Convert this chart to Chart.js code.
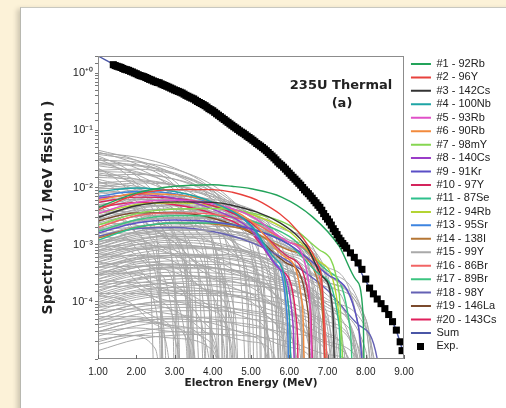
<!DOCTYPE html>
<html>
<head>
<meta charset="utf-8">
<script src="https://cdn.jsdelivr.net/npm/chart.js@4.4.1/dist/chart.umd.min.js"></script>
<style>
  html, body { margin: 0; padding: 0; }
  body { width: 506px; height: 408px; background: #fcf2d8; position: relative; overflow: hidden; }
  .panel { position: absolute; left: 20px; top: 7px; width: 520px; height: 440px; background: #fff;
           border-left: 1px solid #b8b8b0; border-top: 1px solid #c8c8c0; box-shadow: -3px 2px 5px rgba(0,0,0,0.18); }
  .wrap { position: absolute; left: 0; top: 0; width: 506px; height: 408px; }
</style>
</head>
<body>
<div class="panel"></div>
<div class="wrap"><canvas id="spectrumChart" width="506" height="408"></canvas></div>
<script>
// Eixo X / Y
const energyTickLabels = ['1.00', '2.00', '3.00', '4.00', '5.00', '6.00', '7.00', '8.00', '9.00'];
const decadeValues = [1, 0.1, 0.01, 0.001, 0.0001];
const decadeLabels = ['10⁺⁰', '10⁻¹', '10⁻²', '10⁻³', '10⁻⁴'];

// Espectro experimental [E, valor]
const expSpectrum = [
  [1.40, 1.41], [1.45, 1.36], [1.50, 1.32], [1.55, 1.29], [1.60, 1.26], [1.65, 1.21], [1.70, 1.17], [1.75, 1.15],
  [1.80, 1.12], [1.85, 1.08], [1.90, 1.05], [1.95, 1.01], [2.00, 0.98], [2.05, 0.94], [2.10, 0.91], [2.15, 0.89],
  [2.20, 0.87], [2.25, 0.84], [2.30, 0.81], [2.35, 0.78], [2.40, 0.76], [2.45, 0.73], [2.50, 0.71], [2.55, 0.69],
  [2.60, 0.68], [2.65, 0.65], [2.70, 0.63], [2.75, 0.61], [2.80, 0.59], [2.85, 0.57], [2.90, 0.55], [2.95, 0.53],
  [3.00, 0.51], [3.05, 0.495], [3.10, 0.48], [3.15, 0.465], [3.20, 0.45], [3.25, 0.43], [3.30, 0.41], [3.35, 0.395],
  [3.40, 0.38], [3.45, 0.367], [3.50, 0.355], [3.55, 0.337], [3.60, 0.32], [3.65, 0.307], [3.70, 0.295], [3.75, 0.282],
  [3.80, 0.27], [3.85, 0.255], [3.90, 0.24], [3.95, 0.23], [4.00, 0.22], [4.05, 0.207], [4.10, 0.195], [4.15, 0.184],
  [4.20, 0.174], [4.25, 0.164], [4.30, 0.155], [4.35, 0.146], [4.40, 0.138], [4.45, 0.13], [4.50, 0.123], [4.55, 0.116],
  [4.60, 0.11], [4.65, 0.104], [4.70, 0.098], [4.75, 0.093], [4.80, 0.089], [4.85, 0.084], [4.90, 0.079], [4.95, 0.075],
  [5.00, 0.071], [5.05, 0.067], [5.10, 0.063], [5.15, 0.059], [5.20, 0.056], [5.25, 0.053], [5.30, 0.05], [5.35, 0.047],
  [5.40, 0.044], [5.45, 0.041], [5.50, 0.038], [5.55, 0.0355], [5.60, 0.033], [5.65, 0.0305], [5.70, 0.028], [5.75, 0.026],
  [5.80, 0.0245], [5.85, 0.0227], [5.90, 0.021], [5.95, 0.0193], [6.00, 0.0178], [6.05, 0.0164], [6.10, 0.0151], [6.15, 0.014],
  [6.20, 0.0129], [6.25, 0.0119], [6.30, 0.011], [6.35, 0.01], [6.40, 0.0091], [6.45, 0.0084], [6.50, 0.0078], [6.55, 0.0071],
  [6.60, 0.0065], [6.65, 0.0059], [6.70, 0.0054], [6.75, 0.0049], [6.80, 0.0045], [6.85, 0.004], [6.90, 0.0035], [6.95, 0.0031],
  [7.00, 0.0028], [7.05, 0.0025], [7.10, 0.0022], [7.15, 0.0019], [7.20, 0.0017], [7.25, 0.0015], [7.30, 0.0013], [7.35, 0.00117],
  [7.40, 0.00105], [7.45, 0.00096], [7.50, 0.00087], [7.60, 0.00072], [7.70, 0.0006], [7.80, 0.00048], [7.90, 0.00037],
  [8.00, 0.00025], [8.10, 0.000174], [8.20, 0.000138], [8.30, 0.000112], [8.40, 0.000093], [8.50, 0.000076],
  [8.60, 0.00006], [8.70, 0.000045], [8.80, 0.000032], [8.90, 0.00002], [8.95, 0.000014]
];

// Soma de todos os nuclídeos
const sumSpectrum = [
  [1.0, 2.0], [1.5, 1.34], [2, 0.97], [2.5, 0.70], [3, 0.50], [3.5, 0.35], [4, 0.215], [4.5, 0.12], [5, 0.069],
  [5.5, 0.037], [6, 0.0172], [6.5, 0.0074], [7, 0.0026], [7.25, 0.0014], [7.5, 0.0008], [7.75, 0.00048],
  [8, 0.00023], [8.25, 0.00013], [8.5, 0.00007], [8.75, 0.000038], [9, 0.000012]
];

// 20 principais nuclídeos
const isotopeLabels = ['#1 - 92Rb', '#2 - 96Y', '#3 - 142Cs', '#4 - 100Nb', '#5 - 93Rb', '#6 - 90Rb', '#7 - 98mY',
  '#8 - 140Cs', '#9 - 91Kr', '#10 - 97Y', '#11 - 87Se', '#12 - 94Rb', '#13 - 95Sr', '#14 - 138I', '#15 - 99Y',
  '#16 - 86Br', '#17 - 89Br', '#18 - 98Y', '#19 - 146La', '#20 - 143Cs'];
const isotopeColors = ['#23a35a', '#e8413c', '#333333', '#1ea5a5', '#e050c8', '#f28a3c', '#86d651', '#9a3cc8',
  '#5a4ec6', '#d4245c', '#2ec08c', '#b4d433', '#3d84e0', '#b57634', '#a9a9a9', '#f26464', '#3cc480', '#6461b4',
  '#7b4a2c', '#e0205c'];
const isotopeSpectra = [
  [[1, 0.0045], [2, 0.008], [3, 0.0105], [4, 0.0112], [4.5, 0.0105], [5, 0.0095], [5.8, 0.0068], [6.6, 0.0031], [7.3, 0.00095], [7.75, 0.00024], [7.93, 6e-5], [8.0, 1e-8]],
  [[1, 0.004], [2, 0.0075], [3, 0.0092], [4, 0.0092], [4.5, 0.0083], [5.3, 0.0054], [6.2, 0.0018], [6.73, 4.8e-4], [6.88, 1.2e-4], [7.0, 1e-8]],
  [[1, 0.003], [2, 0.0048], [3, 0.0056], [4, 0.0055], [4.45, 0.005], [5.76, 0.0024], [6.46, 9.2e-4], [6.88, 2.7e-4], [7.14, 6.5e-5], [7.25, 1e-8]],
  [[1, 0.0085], [2, 0.0098], [3, 0.0085], [4, 0.0055], [5, 0.0022], [5.6, 6e-4], [6.0, 6e-5], [6.12, 1e-8]],
  [[1, 0.0035], [2, 0.0055], [3, 0.006], [4, 0.0052], [5, 0.0032], [6, 0.0011], [6.5, 2.5e-4], [6.7, 1e-8]],
  [[1, 0.006], [2, 0.0078], [3, 0.0075], [4, 0.0055], [5, 0.0026], [5.9, 6e-4], [6.35, 8e-5], [6.45, 1e-8]],
  [[1, 0.0022], [2, 0.0035], [3, 0.0042], [4, 0.0043], [5, 0.0036], [6, 0.0022], [6.8, 8e-4], [7.3, 1.5e-4], [7.55, 1e-8]],
  [[1, 0.0065], [2, 0.0075], [3, 0.0065], [4, 0.0042], [5, 0.0018], [5.7, 4e-4], [6.1, 4e-5], [6.2, 1e-8]],
  [[1, 0.0016], [2, 0.0024], [3, 0.0027], [4, 0.0025], [5, 0.0019], [6, 0.001], [7, 3e-4], [7.8, 4e-5], [8.2, 1e-8]],
  [[1, 0.0055], [2, 0.0068], [3, 0.0065], [4, 0.0048], [5, 0.0024], [6, 6e-4], [6.55, 8e-5], [6.7, 1e-8]],
  [[1, 0.0012], [2, 0.002], [3, 0.0024], [4, 0.0024], [5, 0.0019], [6, 0.001], [6.8, 3e-4], [7.3, 4e-5], [7.45, 1e-8]],
  [[1, 0.0035], [2, 0.005], [3, 0.0054], [4, 0.0048], [5, 0.0034], [6, 0.0017], [6.8, 5e-4], [7.3, 6e-5], [7.45, 1e-8]],
  [[1, 0.007], [2, 0.0085], [3, 0.0078], [4, 0.0052], [5, 0.0021], [5.6, 5e-4], [5.95, 5e-5], [6.05, 1e-8]],
  [[1, 0.0013], [2, 0.002], [3, 0.0024], [4, 0.0023], [5, 0.0017], [6, 8e-4], [6.8, 1.8e-4], [7.15, 1e-8]],
  [[1, 0.001], [2, 0.0015], [3, 0.0018], [4, 0.0018], [5, 0.0015], [6, 9e-4], [7, 3e-4], [7.8, 4e-5], [8.4, 1e-8]],
  [[1, 0.002], [2, 0.0032], [3, 0.0036], [4, 0.0034], [5, 0.0025], [6, 0.0011], [6.8, 2.6e-4], [7.25, 1e-8]],
  [[1, 0.0017], [2, 0.0027], [3, 0.0032], [4, 0.0032], [5, 0.0026], [6, 0.0014], [7, 3.5e-4], [7.6, 3e-5], [7.75, 1e-8]],
  [[1, 0.0014], [2, 0.0019], [3, 0.002], [4, 0.0017], [5, 0.0011], [6, 5e-4], [7, 1.6e-4], [7.8, 4e-5], [8.3, 1e-5], [8.6, 1e-8]],
  [[1, 0.0026], [2, 0.0036], [3, 0.0036], [4, 0.0029], [5, 0.0016], [6, 4.5e-4], [6.5, 6e-5], [6.6, 1e-8]],
  [[1, 0.0045], [2, 0.0055], [3, 0.005], [4, 0.0035], [5, 0.0016], [5.8, 3.5e-4], [6.2, 4e-5], [6.3, 1e-8]]
];

// Demais nuclídeos (curvas cinzas)
const otherSpectra = [
  [[1, 0.045], [2, 0.03], [3, 0.013], [3.8, 0.0035], [4.3, 4e-4], [4.5, 1e-8]],
  [[1, 0.04], [2, 0.034], [3, 0.022], [4, 0.009], [4.7, 0.0022], [5.1, 2e-4], [5.25, 1e-8]],
  [[1, 0.036], [1.8, 0.02], [2.6, 0.006], [3.1, 0.0012], [3.4, 1e-4], [3.5, 1e-8]],
  [[1, 0.03], [2, 0.028], [3, 0.021], [4, 0.011], [5, 0.0032], [5.6, 4e-4], [5.85, 1e-8]],
  [[1, 0.028], [2, 0.017], [3, 0.0065], [3.6, 0.0016], [3.95, 1.2e-4], [4.05, 1e-8]],
  [[1, 0.025], [2, 0.024], [3, 0.017], [4, 0.008], [4.8, 0.0017], [5.2, 1.5e-4], [5.3, 1e-8]],
  [[1, 0.022], [1.6, 0.012], [2.2, 0.004], [2.6, 6e-4], [2.8, 1e-8]],
  [[1, 0.02], [2, 0.021], [3, 0.017], [4, 0.0095], [5, 0.0035], [5.8, 6e-4], [6.2, 1e-8]],
  [[1, 0.018], [2, 0.014], [3, 0.0075], [4, 0.0022], [4.5, 3e-4], [4.65, 1e-8]],
  [[1, 0.016], [2, 0.017], [3, 0.014], [4, 0.0085], [5, 0.003], [5.6, 6e-4], [6.0, 1e-8]],
  [[1, 0.014], [2, 0.009], [2.8, 0.0035], [3.4, 5e-4], [3.65, 1e-8]],
  [[1, 0.012], [2, 0.013], [3, 0.011], [4, 0.0068], [5, 0.0025], [5.8, 4e-4], [6.15, 1e-8]],
  [[1, 0.011], [2, 0.0095], [3, 0.006], [4, 0.0025], [4.7, 4e-4], [5.0, 1e-8]],
  [[1, 0.009], [2, 0.0075], [3, 0.0042], [3.8, 0.0013], [4.3, 1.5e-4], [4.45, 1e-8]],
  [[1, 0.008], [2, 0.0082], [3, 0.007], [4, 0.0048], [5, 0.0021], [5.8, 4.5e-4], [6.3, 1e-8]],
  [[1, 0.0075], [1.8, 0.005], [2.5, 0.0018], [3, 3e-4], [3.2, 1e-8]],
  [[1, 0.0035], [2, 0.0055], [3, 0.0062], [4, 0.0055], [5, 0.0035], [6, 0.0012], [6.6, 1.8e-4], [6.85, 1e-8]],
  [[1, 0.0025], [2, 0.0042], [3, 0.0048], [4, 0.0042], [5, 0.0025], [5.8, 7e-4], [6.3, 5e-5], [6.4, 1e-8]],
  [[1, 0.002], [2, 0.0032], [3, 0.0038], [4, 0.0036], [5, 0.0026], [6, 0.0011], [6.8, 1.6e-4], [7.15, 1e-8]],
  [[1, 0.0015], [2, 0.0028], [3, 0.0034], [4, 0.003], [5, 0.0017], [5.6, 6e-4], [6.0, 5e-5], [6.1, 1e-8]],
  [[1, 0.0012], [2, 0.002], [3, 0.0025], [4, 0.0025], [5, 0.002], [6, 0.0011], [7, 2.5e-4], [7.5, 1e-8]],
  [[1, 0.001], [2, 0.0017], [3, 0.0019], [4, 0.0016], [5, 8e-4], [5.5, 2e-4], [5.75, 1e-8]],
  [[1, 8e-4], [2, 0.0012], [3, 0.0015], [4, 0.0015], [5, 0.0012], [6, 7e-4], [7, 2e-4], [7.8, 1e-8]],
  [[1, 6e-4], [2, 0.001], [3, 0.0012], [4, 0.0011], [5, 7e-4], [6, 2.2e-4], [6.5, 2e-5], [6.55, 1e-8]],
  [[1, 5e-4], [2, 8e-4], [3, 9.5e-4], [4, 9e-4], [5, 7e-4], [6, 3.8e-4], [7, 9e-5], [7.5, 5e-6], [7.55, 1e-8]],
  [[1, 4e-4], [2, 6e-4], [3, 6.5e-4], [4, 5.5e-4], [4.8, 3e-4], [5.4, 6e-5], [5.6, 1e-8]],
  [[1, 3e-4], [2, 5e-4], [3, 6e-4], [4, 6e-4], [5, 5e-4], [6, 3e-4], [7, 1.1e-4], [7.8, 1e-5], [8.0, 1e-8]],
  [[1, 2.5e-4], [2, 4e-4], [3, 4.5e-4], [4, 4e-4], [5, 2.6e-4], [6, 8e-5], [6.4, 1e-5], [6.5, 1e-8]],
  [[1, 2e-4], [2, 3.2e-4], [3, 3.8e-4], [4, 3.8e-4], [5, 3.2e-4], [6, 2.1e-4], [7, 9e-5], [7.8, 1.5e-5], [8.3, 1e-8]],
  [[1, 1.5e-4], [2, 2.5e-4], [3, 2.9e-4], [4, 2.6e-4], [5, 1.8e-4], [6, 6e-5], [6.6, 8e-6], [6.7, 1e-8]],
  [[1, 1.2e-4], [2, 1.8e-4], [3, 2.2e-4], [4, 2.3e-4], [5, 2e-4], [6, 1.4e-4], [7, 6e-5], [7.9, 1e-5], [8.5, 1e-8]],
  [[1, 9e-5], [2, 1.4e-4], [3, 1.6e-4], [4, 1.5e-4], [5, 1e-4], [5.8, 3.5e-5], [6.3, 3e-6], [6.35, 1e-8]],
  [[1, 7e-5], [2, 1.1e-4], [3, 1.3e-4], [4, 1.3e-4], [5, 1.1e-4], [6, 7e-5], [7, 2.8e-5], [7.6, 6e-6], [7.8, 1e-8]],
  [[1, 5e-5], [2, 8e-5], [3, 9e-5], [4, 8e-5], [5, 5e-5], [5.5, 2e-5], [5.8, 1e-8]],
  [[1, 4e-5], [2, 6e-5], [3, 7e-5], [4, 7e-5], [5, 6e-5], [6, 4e-5], [7, 1.8e-5], [7.8, 4e-6], [8.1, 1e-8]],
  [[1, 3e-5], [2, 4.5e-5], [3, 5e-5], [4, 4.2e-5], [5, 2.5e-5], [5.4, 1.2e-5], [5.7, 1e-8]],
  [[1, 2e-5], [2, 3e-5], [3, 3.5e-5], [4, 3.4e-5], [5, 2.8e-5], [6, 1.6e-5], [6.8, 5e-6], [7.0, 1e-8]],
  [[1, 0.005], [1.6, 0.0032], [2.2, 0.0012], [2.6, 2e-4], [2.75, 1e-8]],
  [[1, 0.004], [2, 0.0035], [3, 0.0018], [3.6, 4e-4], [3.9, 1e-8]],
  [[1, 0.003], [2, 0.0022], [2.8, 8e-4], [3.3, 1e-4], [3.45, 1e-8]],
  [[1, 0.0018], [2, 0.002], [3, 0.0014], [4, 5e-4], [4.4, 8e-5], [4.55, 1e-8]],
  [[1, 0.0014], [2, 0.0011], [2.7, 4e-4], [3.1, 5e-5], [3.2, 1e-8]],
  [[1, 9e-4], [2, 0.001], [3, 8e-4], [4, 3.5e-4], [4.6, 5e-5], [4.75, 1e-8]],
  [[1, 7e-4], [1.8, 5.5e-4], [2.4, 2e-4], [2.75, 2e-5], [2.85, 1e-8]],
  [[1, 4.5e-4], [2, 5e-4], [3, 4e-4], [3.8, 1.6e-4], [4.3, 1.5e-5], [4.4, 1e-8]],
  [[1, 3.5e-4], [2, 3e-4], [2.8, 1.4e-4], [3.3, 2e-5], [3.45, 1e-8]],
  [[1, 2e-4], [2, 2.2e-4], [3, 1.8e-4], [4, 8e-5], [4.5, 1.5e-5], [4.65, 1e-8]],
  [[1, 1.3e-4], [1.8, 1e-4], [2.5, 4e-5], [2.9, 5e-6], [2.95, 1e-8]],
  [[1, 8e-5], [2, 9e-5], [3, 7e-5], [3.8, 3e-5], [4.2, 5e-6], [4.3, 1e-8]],
  [[1, 5e-5], [2, 5e-5], [3, 3.5e-5], [3.5, 1.5e-5], [3.75, 1e-8]],
  [[1, 3e-5], [2, 3.5e-5], [3, 3e-5], [4, 1.8e-5], [4.6, 1e-8]],
  [[1, 0.0028], [2, 0.004], [3, 0.0042], [4, 0.0035], [5, 0.002], [5.8, 6e-4], [6.3, 6e-5], [6.4, 1e-8]],
  [[1, 0.0018], [2, 0.0026], [3, 0.003], [4, 0.0029], [5, 0.0022], [6, 0.0011], [7, 2.2e-4], [7.45, 1e-8]],
  [[1, 0.0011], [2, 0.0017], [3, 0.0021], [4, 0.0021], [5, 0.0018], [6, 0.0011], [7, 4e-4], [7.8, 4e-5], [8.0, 1e-8]],
  [[1, 5e-4], [2, 7e-4], [3, 8.5e-4], [4, 8.5e-4], [5, 7.5e-4], [6, 5e-4], [7, 2.2e-4], [8, 3.5e-5], [8.45, 1e-8]],
  [[1, 2.5e-4], [2, 3.5e-4], [3, 4.2e-4], [4, 4.5e-4], [5, 4.2e-4], [6, 3.3e-4], [7, 1.8e-4], [8, 5e-5], [8.7, 1e-8]],
  [[1, 1e-4], [2, 1.5e-4], [3, 1.8e-4], [4, 2e-4], [5, 1.9e-4], [6, 1.6e-4], [7, 1e-4], [8, 3.5e-5], [8.9, 1e-8]],
  [[1, 0.0065], [2, 0.009], [3, 0.009], [4, 0.007], [5, 0.0038], [5.8, 0.0011], [6.3, 1.2e-4], [6.45, 1e-8]],
  [[1, 0.0045], [2, 0.0065], [3, 0.007], [4, 0.0062], [5, 0.0042], [6, 0.0017], [6.7, 3e-4], [7.0, 1e-8]],
  [[1, 0.01], [2, 0.012], [3, 0.011], [4, 0.0075], [5, 0.0032], [5.6, 7e-4], [5.95, 1e-8]],
  [[1, 0.042], [2, 0.026], [3, 0.011], [3.7, 0.0025], [4.1, 2.5e-4], [4.25, 1e-8]],
  [[1, 0.038], [2, 0.03], [3, 0.017], [4, 0.006], [4.6, 0.0011], [4.9, 8e-5], [5.0, 1e-8]],
  [[1, 0.033], [2, 0.022], [3, 0.009], [3.8, 0.0018], [4.2, 1.5e-4], [4.3, 1e-8]],
  [[1, 0.032], [1.6, 0.02], [2.2, 0.008], [2.7, 0.0018], [3.0, 1.5e-4], [3.1, 1e-8]],
  [[1, 0.027], [2, 0.025], [3, 0.018], [4, 0.009], [4.8, 0.0025], [5.3, 3e-4], [5.5, 1e-8]],
  [[1, 0.024], [2, 0.019], [3, 0.011], [4, 0.0042], [4.6, 9e-4], [4.95, 6e-5], [5.05, 1e-8]],
  [[1, 0.021], [1.7, 0.014], [2.4, 0.006], [3, 0.0015], [3.35, 1.2e-4], [3.45, 1e-8]],
  [[1, 0.019], [2, 0.018], [3, 0.014], [4, 0.0075], [5, 0.0024], [5.6, 3.5e-4], [5.85, 1e-8]],
  [[1, 0.017], [2, 0.012], [2.8, 0.0055], [3.5, 0.0014], [3.9, 1.2e-4], [4.0, 1e-8]],
  [[1, 0.015], [2, 0.014], [3, 0.011], [4, 0.0062], [4.9, 0.002], [5.5, 3e-4], [5.7, 1e-8]],
  [[1, 0.013], [1.5, 0.009], [2, 0.0045], [2.4, 0.0012], [2.65, 8e-5], [2.7, 1e-8]],
  [[1, 0.012], [2, 0.0105], [3, 0.0072], [4, 0.0035], [4.8, 8e-4], [5.25, 5e-5], [5.3, 1e-8]],
  [[1, 0.01], [2, 0.0085], [3, 0.005], [3.7, 0.0019], [4.2, 2.5e-4], [4.35, 1e-8]],
  [[1, 0.0095], [2, 0.0098], [3, 0.0085], [4, 0.0058], [5, 0.0027], [5.9, 6e-4], [6.45, 1e-8]],
  [[1, 0.0085], [1.8, 0.006], [2.5, 0.003], [3.1, 7e-4], [3.45, 5e-5], [3.5, 1e-8]],
  [[1, 0.007], [2, 0.0066], [3, 0.0048], [4, 0.0024], [4.7, 6e-4], [5.05, 4e-5], [5.1, 1e-8]],
  [[1, 0.006], [2, 0.0062], [3, 0.0053], [4, 0.0036], [5, 0.0017], [5.7, 4e-4], [6.1, 1e-8]],
  [[1, 0.0055], [2, 0.0042], [2.8, 0.0021], [3.4, 6e-4], [3.8, 4e-5], [3.85, 1e-8]],
  [[1, 0.005], [2, 0.0052], [3, 0.0042], [4, 0.0025], [4.8, 8e-4], [5.35, 6e-5], [5.4, 1e-8]],
  [[1, 0.0032], [2, 0.0046], [3, 0.0048], [4, 0.0038], [5, 0.0019], [5.6, 6e-4], [6.0, 6e-5], [6.05, 1e-8]],
  [[1, 0.0027], [2, 0.0038], [3, 0.0042], [4, 0.0038], [5, 0.0027], [6, 0.0011], [6.6, 2.4e-4], [6.95, 1e-8]],
  [[1, 0.0022], [2, 0.0031], [3, 0.0033], [4, 0.0027], [4.8, 0.0014], [5.3, 4e-4], [5.6, 1e-8]],
  [[1, 0.0017], [2, 0.0025], [3, 0.0029], [4, 0.0028], [5, 0.0022], [6, 0.0012], [7, 3e-4], [7.6, 1e-8]],
  [[1, 0.0014], [2, 0.0021], [3, 0.0023], [4, 0.0019], [5, 0.0011], [5.7, 3e-4], [6.1, 1e-8]],
  [[1, 0.0011], [2, 0.0016], [3, 0.0018], [4, 0.0018], [5, 0.0015], [6, 8.5e-4], [6.8, 2.2e-4], [7.25, 1e-8]],
  [[1, 9e-4], [2, 0.0013], [3, 0.0014], [4, 0.0011], [4.8, 5.5e-4], [5.3, 1.2e-4], [5.5, 1e-8]],
  [[1, 7.5e-4], [2, 0.0011], [3, 0.0013], [4, 0.0013], [5, 0.0011], [6, 6.5e-4], [7, 2e-4], [7.7, 1.5e-5], [7.85, 1e-8]],
  [[1, 6.5e-4], [2, 9e-4], [3, 0.001], [4, 8.5e-4], [5, 5e-4], [5.7, 1.5e-4], [6.05, 1e-8]],
  [[1, 5.5e-4], [2, 8e-4], [3, 9e-4], [4, 8.5e-4], [5, 6.5e-4], [6, 3.2e-4], [6.7, 8e-5], [7.0, 1e-8]],
  [[1, 4.5e-4], [2, 6.5e-4], [3, 7e-4], [4, 6e-4], [5, 3.5e-4], [5.6, 1e-4], [5.95, 1e-8]],
  [[1, 3.5e-4], [2, 5.5e-4], [3, 6.5e-4], [4, 6.5e-4], [5, 5.5e-4], [6, 3.5e-4], [7, 1.3e-4], [7.7, 1.8e-5], [8.1, 1e-8]],
  [[1, 3e-4], [2, 4.2e-4], [3, 4.6e-4], [4, 4e-4], [5, 2.5e-4], [5.8, 7e-5], [6.2, 1e-8]],
  [[1, 2.2e-4], [2, 3.4e-4], [3, 4e-4], [4, 3.9e-4], [5, 3.2e-4], [6, 2e-4], [6.9, 7e-5], [7.5, 1e-8]],
  [[1, 1.8e-4], [2, 2.6e-4], [3, 2.9e-4], [4, 2.5e-4], [4.8, 1.5e-4], [5.4, 4e-5], [5.65, 1e-8]],
  [[1, 1.4e-4], [2, 2.1e-4], [3, 2.5e-4], [4, 2.6e-4], [5, 2.3e-4], [6, 1.7e-4], [7, 8e-5], [8, 1.4e-5], [8.6, 1e-8]],
  [[1, 1.1e-4], [2, 1.6e-4], [3, 1.8e-4], [4, 1.6e-4], [5, 1.1e-4], [6, 4e-5], [6.5, 1e-8]],
  [[1, 8e-5], [2, 1.2e-4], [3, 1.4e-4], [4, 1.4e-4], [5, 1.2e-4], [6, 8.5e-5], [7, 4e-5], [7.8, 9e-6], [8.2, 1e-8]],
  [[1, 6e-5], [2, 9e-5], [3, 1e-4], [4, 9e-5], [5, 6.5e-5], [5.8, 2.8e-5], [6.3, 1e-8]],
  [[1, 4.5e-5], [2, 7e-5], [3, 8e-5], [4, 8e-5], [5, 7e-5], [6, 5e-5], [7, 2.5e-5], [7.5, 1.2e-5], [7.9, 1e-8]],
  [[1, 3.5e-5], [2, 5e-5], [3, 5.5e-5], [4, 5e-5], [5, 3.6e-5], [6, 1.6e-5], [6.4, 1e-8]],
  [[1, 2.5e-5], [2, 3.8e-5], [3, 4.5e-5], [4, 4.5e-5], [5, 4e-5], [6, 2.8e-5], [7, 1.3e-5], [7.4, 1e-8]],
  [[1, 1.8e-5], [2, 2.6e-5], [3, 3e-5], [4, 2.8e-5], [5, 2e-5], [5.6, 1.2e-5], [6.0, 1e-8]],
  [[1, 1.4e-5], [2, 2.2e-5], [3, 2.6e-5], [4, 2.7e-5], [5, 2.5e-5], [6, 2e-5], [7, 1.2e-5], [8, 4e-6], [8.3, 1e-8]],
  [[1, 0.0045], [1.5, 0.0032], [2, 0.0016], [2.35, 4e-4], [2.55, 1e-8]],
  [[1, 0.0038], [2, 0.003], [2.8, 0.0013], [3.3, 2.5e-4], [3.5, 1e-8]],
  [[1, 0.0024], [2, 0.0022], [3, 0.0013], [3.8, 3.5e-4], [4.2, 1e-8]],
  [[1, 0.002], [1.7, 0.0014], [2.3, 5e-4], [2.65, 6e-5], [2.75, 1e-8]],
  [[1, 0.0016], [2, 0.0016], [3, 0.0011], [3.7, 4e-4], [4.1, 4e-5], [4.15, 1e-8]],
  [[1, 0.0012], [2, 0.0012], [2.9, 7e-4], [3.5, 2e-4], [3.8, 1e-8]],
  [[1, 0.001], [1.8, 8e-4], [2.5, 3.5e-4], [2.95, 5e-5], [3.05, 1e-8]],
  [[1, 8e-4], [2, 8.5e-4], [3, 6.5e-4], [4, 2.8e-4], [4.5, 5e-5], [4.6, 1e-8]],
  [[1, 6e-4], [2, 6.5e-4], [3, 5e-4], [3.6, 2.5e-4], [4.0, 2e-5], [4.05, 1e-8]],
  [[1, 5e-4], [1.6, 4e-4], [2.2, 1.8e-4], [2.6, 3e-5], [2.7, 1e-8]],
  [[1, 4e-4], [2, 4.2e-4], [3, 3.3e-4], [4, 1.4e-4], [4.6, 1.5e-5], [4.7, 1e-8]],
  [[1, 3e-4], [2, 3.2e-4], [2.8, 2.2e-4], [3.4, 8e-5], [3.7, 1e-8]],
  [[1, 2.4e-4], [1.9, 2e-4], [2.6, 1e-4], [3.1, 2e-5], [3.2, 1e-8]],
  [[1, 1.8e-4], [2, 1.9e-4], [3, 1.5e-4], [4, 7e-5], [4.5, 1e-5], [4.6, 1e-8]],
  [[1, 1.4e-4], [2, 1.4e-4], [3, 1e-4], [3.7, 4.5e-5], [4.0, 1e-8]],
  [[1, 1e-4], [1.8, 9e-5], [2.6, 5e-5], [3.1, 1.2e-5], [3.25, 1e-8]],
  [[1, 7e-5], [2, 7.5e-5], [3, 6e-5], [4, 3e-5], [4.6, 1e-8]],
  [[1, 5.5e-5], [2, 5.5e-5], [2.8, 4e-5], [3.4, 1.6e-5], [3.6, 1e-8]],
  [[1, 4e-5], [2, 4.5e-5], [3, 3.8e-5], [3.8, 2e-5], [4.3, 1e-8]],
  [[1, 2.8e-5], [1.8, 2.6e-5], [2.5, 1.5e-5], [2.9, 1e-8]],
  [[1, 2.2e-5], [2, 2.6e-5], [3, 2.3e-5], [4, 1.4e-5], [4.8, 1e-8]],
  [[1, 0.0042], [2, 0.006], [3, 0.0063], [4, 0.0052], [5, 0.0031], [6, 0.0011], [6.55, 1.5e-4], [6.7, 1e-8]],
  [[1, 0.003], [2, 0.0045], [3, 0.005], [4, 0.0046], [5, 0.0034], [6, 0.0017], [6.8, 4.5e-4], [7.2, 1e-8]],
  [[1, 8e-4], [2, 0.0012], [3, 0.0014], [4, 0.0014], [5, 0.0012], [6, 8e-4], [7, 3.2e-4], [8, 4e-5], [8.35, 1e-8]],
  [[1, 4e-4], [2, 5.5e-4], [3, 6.5e-4], [4, 6.8e-4], [5, 6.2e-4], [6, 4.5e-4], [7, 2.2e-4], [8, 5e-5], [8.55, 1e-8]],
  [[1, 6e-4], [2, 8.5e-4], [3, 9.5e-4], [4, 9e-4], [5, 7e-4], [6, 3.5e-4], [6.6, 9e-5], [6.9, 1e-8]],
  [[1, 3.2e-4], [2, 4.6e-4], [3, 5.2e-4], [4, 5e-4], [5, 4e-4], [6, 2.2e-4], [6.8, 6e-5], [7.15, 1e-8]],
  [[1, 1.6e-4], [2, 2.4e-4], [3, 2.8e-4], [4, 2.8e-4], [5, 2.4e-4], [6, 1.5e-4], [7, 5e-5], [7.6, 1e-8]],
  [[1, 8.5e-5], [2, 1.3e-4], [3, 1.5e-4], [4, 1.55e-4], [5, 1.4e-4], [6, 1e-4], [7, 4.5e-5], [7.9, 5e-6], [8.05, 1e-8]],
  [[1, 0.0013], [2, 0.0019], [3, 0.0021], [4, 0.0019], [5, 0.0013], [5.8, 5e-4], [6.3, 6e-5], [6.4, 1e-8]],
  [[1, 0.0009], [2, 0.0014], [3, 0.0016], [4, 0.0016], [5, 0.0013], [6, 6.5e-4], [6.7, 1.5e-4], [7.0, 1e-8]],
  [[1, 0.0024], [2, 0.0034], [3, 0.0036], [4, 0.003], [5, 0.0018], [5.7, 6e-4], [6.15, 5e-5], [6.2, 1e-8]],
  [[1, 2.8e-4], [2, 4e-4], [3, 4.4e-4], [4, 4e-4], [5, 2.8e-4], [5.8, 1.1e-4], [6.3, 1e-5], [6.4, 1e-8]],
  [[1, 1.3e-4], [2, 1.9e-4], [3, 2.1e-4], [4, 1.9e-4], [5, 1.4e-4], [6, 6.5e-5], [6.6, 1.5e-5], [6.8, 1e-8]],
  [[1, 6e-5], [2, 9e-5], [3, 1.05e-4], [4, 1.05e-4], [5, 9e-5], [6, 6e-5], [7, 2.5e-5], [7.3, 1e-8]],
  [[1, 3e-5], [2, 4.5e-5], [3, 5.2e-5], [4, 5.4e-5], [5, 5e-5], [6, 3.8e-5], [7, 2e-5], [8, 5e-6], [8.4, 1e-8]],
  [[1, 0.0019], [2, 0.0027], [3, 0.0029], [4, 0.0025], [5, 0.0016], [6, 6e-4], [6.6, 1e-4], [6.75, 1e-8]],
  [[1, 0.0007], [2, 0.001], [3, 0.0011], [4, 0.001], [5, 7.5e-4], [6, 3.5e-4], [6.5, 1.1e-4], [6.75, 1e-8]],
  [[1, 4e-4], [2, 5.8e-4], [3, 6.4e-4], [4, 6e-4], [5, 4.6e-4], [6, 2.4e-4], [7, 6e-5], [7.4, 1e-8]],
  [[1, 2e-4], [2, 2.9e-4], [3, 3.3e-4], [4, 3.2e-4], [5, 2.7e-4], [6, 1.8e-4], [7, 7e-5], [7.7, 1e-5], [7.85, 1e-8]]
];

// Marcador quadrado da legenda (Exp.)
const expMarker = document.createElement('canvas');
expMarker.width = 7;
expMarker.height = 7;
expMarker.getContext('2d').fillRect(0, 0, 7, 7);

const datasets = [];
isotopeLabels.forEach((label, i) => {
    datasets.push({
        label: label,
        data: isotopeSpectra[i],
        borderColor: isotopeColors[i],
        backgroundColor: isotopeColors[i],
        borderWidth: 1.4,
        pointRadius: 0,
        pointStyle: 'line',
        cubicInterpolationMode: 'monotone',
        order: 2
    });
});
datasets.push({
    label: 'Sum',
    data: sumSpectrum,
    borderColor: '#4a56a6',
    backgroundColor: '#4a56a6',
    borderWidth: 1.4,
    pointRadius: 0,
    pointStyle: 'line',
    cubicInterpolationMode: 'monotone',
    order: 1
});
datasets.push({
    label: 'Exp.',
    data: expSpectrum,
    showLine: false,
    pointStyle: 'rect',
    pointRadius: 5,
    pointBackgroundColor: '#000',
    pointBorderColor: '#000',
    pointBorderWidth: 0,
    borderColor: '#000',
    backgroundColor: '#000',
    order: 0
});
otherSpectra.forEach(curve => {
    datasets.push({
        data: curve,
        borderColor: '#a8a8a8',
        borderWidth: 1,
        pointRadius: 0,
        cubicInterpolationMode: 'monotone',
        order: 3
    });
});

// Moldura, marcas do eixo X e título interno
const frame = {
    id: 'frame',
    afterDraw(chart) {
        const { ctx, chartArea: a, scales } = chart;
        ctx.save();
        ctx.strokeStyle = '#8c8c8c';
        ctx.lineWidth = 1;
        ctx.strokeRect(a.left + 0.5, a.top + 0.5, a.width - 1, a.height - 1);
        ctx.strokeStyle = '#666';
        scales.x.ticks.forEach(t => {
            const px = Math.round(scales.x.getPixelForValue(t.value)) + 0.5;
            ctx.beginPath();
            ctx.moveTo(px, a.bottom);
            ctx.lineTo(px, a.bottom - 4);
            ctx.stroke();
        });
        ctx.fillStyle = '#222';
        ctx.font = 'bold 13px "DejaVu Sans"';
        ctx.textAlign = 'center';
        ctx.textBaseline = 'middle';
        ctx.fillText('235U Thermal', a.left + 243, 86);
        ctx.fillText('(a)', a.left + 244, 104);
        ctx.restore();
    }
};

const legendNudge = {
    id: 'legendNudge',
    afterLayout(chart) {
        chart.legend.left += 4.5;
        chart.legend.right += 4.5;
    }
};

new Chart(document.getElementById('spectrumChart'), {
    type: 'line',
    data: { datasets },
    plugins: [frame, legendNudge],
    options: {
        responsive: false,
        animation: false,
        events: [],
        layout: { padding: { left: 20, top: 56, right: 6, bottom: 0 } },
        plugins: {
            tooltip: { enabled: false },
            legend: {
                position: 'right',
                align: 'start',
                maxWidth: 96,
                labels: {
                    usePointStyle: true,
                    pointStyleWidth: 20,
                    padding: 2.45,
                    color: '#222',
                    font: { family: 'Liberation Sans', size: 11 },
                    generateLabels(chart) {
                        const items = Chart.defaults.plugins.legend.labels.generateLabels(chart)
                            .filter(it => chart.data.datasets[it.datasetIndex].label);
                        items.sort((a, b) => a.datasetIndex - b.datasetIndex);
                        items.forEach(it => {
                            it.lineWidth = 2;
                            if (it.text === 'Exp.') it.pointStyle = expMarker;
                        });
                        return items;
                    }
                }
            }
        },
        scales: {
            x: {
                type: 'linear',
                min: 1,
                max: 9,
                afterFit: s => { s.height = 49; },
                grid: { display: false, drawTicks: false },
                border: { display: false },
                ticks: {
                    stepSize: 1,
                    padding: 7,
                    color: '#222',
                    font: { family: 'Liberation Sans', size: 10 },
                    callback: (v, i) => energyTickLabels[i]
                },
                title: {
                    display: true,
                    text: 'Electron Energy (MeV)',
                    color: '#222',
                    font: { family: 'DejaVu Sans', size: 10.5, weight: 'bold' },
                    padding: { top: 0, bottom: 18.7 }
                }
            },
            y: {
                type: 'logarithmic',
                min: 1e-5,
                max: 2,
                afterFit: s => { s.width = 78; },
                grid: { drawOnChartArea: false, drawTicks: true, tickLength: 3, color: '#777' },
                border: { display: false },
                ticks: {
                    autoSkip: false,
                    padding: 2,
                    color: '#222',
                    font: { family: 'Liberation Sans', size: 11 },
                    callback: v => {
                        const i = decadeValues.findIndex(d => Math.abs(v / d - 1) < 1e-6);
                        return i >= 0 ? decadeLabels[i] : '';
                    }
                },
                title: {
                    display: true,
                    text: 'Spectrum ( 1/ MeV fission )',
                    color: '#222',
                    font: { family: 'DejaVu Sans', size: 14, weight: 'bold' },
                    padding: { top: 19.5, bottom: 0 }
                }
            }
        }
    }
});
</script>
</body>
</html>
